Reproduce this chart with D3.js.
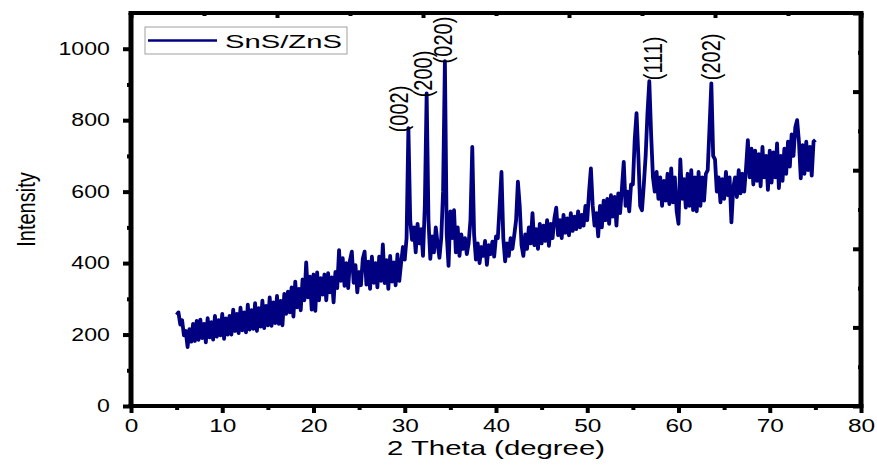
<!DOCTYPE html>
<html>
<head>
<meta charset="utf-8">
<script src="https://cdn.jsdelivr.net/npm/d3@7"></script>
<style>
  body { margin: 0; background: #fff; }
  text { font-family: "Liberation Sans", Arial, sans-serif; fill: #000; }
</style>
</head>
<body>
<svg id="chart"></svg>
<script>
// XRD pattern of SnS/ZnS, sampled every 0.2 degree from 5 to 75 (2 theta)
const twoThetaStart = 5;
const twoThetaStep = 0.2;
const intensity = [
  255, 262, 228, 240, 198, 210, 165, 215, 180, 230,   // 5.0 - 6.8
  182, 238, 185, 242, 190, 230, 178, 246, 192, 235,   // 7.0
  186, 252, 194, 240, 198, 258, 188, 245, 200, 252,   // 9.0
  200, 270, 210, 258, 204, 275, 212, 262, 206, 284,   // 11.0
  214, 268, 216, 288, 210, 274, 222, 295, 218, 280,   // 13.0
  226, 304, 224, 290, 232, 308, 230, 294, 226, 314,   // 15.0
  258, 320, 262, 332, 250, 348, 276, 328, 268, 354,   // 17.0
  296, 402, 304, 362, 270, 368, 266, 374, 296, 358,   // 19.0
  312, 368, 296, 372, 318, 360, 290, 375, 330, 436,   // 21.0
  350, 414, 336, 400, 330, 408, 432, 345, 394, 318,   // 23.0
  375, 338, 412, 432, 340, 404, 328, 418, 345, 400,   // 25.0
  332, 418, 350, 452, 344, 408, 328, 420, 348, 402,   // 27.0
  338, 424, 350, 400, 445, 410, 470, 778, 520, 465,   // 29.0
  500, 430, 510, 455, 495, 420, 560, 875, 520, 412,   // 31.0
  475, 430, 500, 455, 415, 470, 600, 965, 480, 392,   // 33.0
  545, 470, 548, 430, 500, 420, 480, 440, 470, 425,   // 35.0
  455, 520, 725, 480, 410, 455, 400, 445, 420, 462,   // 37.0
  395, 450, 425, 460, 418, 475, 470, 560, 655, 470,   // 39.0
  405, 455, 420, 470, 440, 478, 520, 628, 560, 450,   // 41.0
  420, 480, 440, 500, 455, 540, 450, 495, 440, 510,   // 43.0
  455, 505, 462, 520, 448, 510, 470, 525, 555, 478,   // 45.0
  520, 470, 535, 485, 525, 478, 540, 490, 530, 495,   // 47.0
  545, 500, 535, 505, 560, 520, 600, 665, 560, 505,   // 49.0
  540, 475, 560, 500, 575, 520, 580, 510, 590, 530,   // 51.0
  585, 505, 595, 540, 610, 683, 560, 600, 545, 620,   // 53.0
  620, 745, 820, 700, 560, 548, 620, 700, 820, 909,   // 55.0
  760, 640, 600, 655, 580, 640, 560, 630, 575, 650,   // 57.0
  565, 665, 570, 640, 545, 510, 690, 580, 635, 555,   // 59.0
  650, 560, 660, 548, 640, 545, 655, 560, 640, 575,   // 61.0
  650, 660, 780, 903, 700, 690, 600, 640, 570, 635,   // 63.0
  580, 655, 590, 640, 514, 610, 640, 585, 660, 595,   // 65.0
  650, 600, 665, 744, 640, 720, 620, 715, 630, 705,   // 67.0
  615, 725, 640, 700, 605, 715, 625, 710, 640, 735,   // 69.0
  610, 700, 630, 720, 650, 740, 670, 760, 700, 780,   // 71.0
  800, 740, 637, 730, 650, 740, 660, 725, 645, 740,   // 73.0
  745                                                 // 75.0
];

// peak labels: text, 2theta and intensity where the rotated label starts
const peakNames = ["(002)", "(200)", "(020)", "(111)", "(202)"];
const peakLabelX = [30.36, 32.99, 35.18, 58.19, 64.55];
const peakLabelY = [766, 864, 959, 912, 912];

const seriesName = "SnS/ZnS";
const xTicks = [0, 10, 20, 30, 40, 50, 60, 70, 80];
const yTicks = [0, 200, 400, 600, 800, 1000];

const width = 877, height = 471;
const plot = { left: 131, right: 861, top: 13, bottom: 406 };
const lineColor = "#000080";
const sx = 1.32; // the original picture is stretched sideways

const data = intensity.map((v, i) => [twoThetaStart + i * twoThetaStep, v]);

const svg = d3.select("#chart")
  .attr("width", width)
  .attr("height", height);

const x = d3.scaleLinear().domain([0, 80]).range([plot.left, plot.right]);
const y = d3.scaleLinear().domain([0, 1100]).range([plot.bottom, plot.top]);

// top and right axes use their own tick spacing (mirror layer)
const xTop = d3.scaleLinear().domain([0, 100]).range([plot.left, plot.right]);
const yRight = d3.scaleLinear().domain([0, 10]).range([plot.bottom, plot.top]);

// data line
svg.append("path")
  .datum(data)
  .attr("fill", "none")
  .attr("stroke", lineColor)
  .attr("stroke-width", 3.8)
  .attr("stroke-linejoin", "round")
  .attr("d", d3.line().x(d => x(d[0])).y(d => y(d[1])));

// bottom axis
const xAxisG = svg.append("g")
  .attr("transform", `translate(0,${plot.bottom})`)
  .call(d3.axisBottom(x).tickValues(xTicks).tickSize(7).tickPadding(6));
svg.append("g")
  .attr("transform", `translate(0,${plot.bottom})`)
  .call(d3.axisBottom(x).tickValues(d3.range(5, 80, 10)).tickSize(4).tickFormat(""));

// left axis
const yAxisG = svg.append("g")
  .attr("transform", `translate(${plot.left},0)`)
  .call(d3.axisLeft(y).tickValues(yTicks).tickSize(8).tickPadding(8).tickFormat(d3.format("d")));
svg.append("g")
  .attr("transform", `translate(${plot.left},0)`)
  .call(d3.axisLeft(y).tickValues(d3.range(100, 1100, 200)).tickSize(4).tickFormat(""));

// top axis, ticks pointing in
svg.append("g")
  .attr("transform", `translate(0,${plot.top})`)
  .call(d3.axisBottom(xTop).tickValues(d3.range(0, 101, 20)).tickSize(5).tickFormat(""));
svg.append("g")
  .attr("transform", `translate(0,${plot.top})`)
  .call(d3.axisBottom(xTop).tickValues(d3.range(10, 100, 20)).tickSize(3).tickFormat(""));

// right axis, ticks pointing in
svg.append("g")
  .attr("transform", `translate(${plot.right},0)`)
  .call(d3.axisLeft(yRight).tickValues(d3.range(0, 11, 2)).tickSize(8).tickFormat(""));
svg.append("g")
  .attr("transform", `translate(${plot.right},0)`)
  .call(d3.axisLeft(yRight).tickValues(d3.range(1, 10, 2)).tickSize(3).tickFormat(""));

svg.selectAll(".domain").remove();
svg.selectAll(".tick line").attr("stroke", "#000").attr("stroke-width", 4);

xAxisG.selectAll("text")
  .attr("font-size", 18.5)
  .attr("transform", `scale(${sx},1)`);
yAxisG.selectAll("text")
  .attr("font-size", 17.5)
  .attr("transform", `scale(${sx},1)`);

// frame
svg.append("line").attr("x1", plot.left - 2.5).attr("x2", plot.right + 2.5)
  .attr("y1", plot.bottom).attr("y2", plot.bottom)
  .attr("stroke", "#000").attr("stroke-width", 4);
svg.append("line").attr("x1", plot.left - 2.5).attr("x2", plot.right + 2.5)
  .attr("y1", plot.top).attr("y2", plot.top)
  .attr("stroke", "#000").attr("stroke-width", 4);
svg.append("line").attr("x1", plot.left).attr("x2", plot.left)
  .attr("y1", plot.top).attr("y2", plot.bottom)
  .attr("stroke", "#000").attr("stroke-width", 5);
svg.append("line").attr("x1", plot.right).attr("x2", plot.right)
  .attr("y1", plot.top).attr("y2", plot.bottom)
  .attr("stroke", "#000").attr("stroke-width", 5);

// axis titles
svg.append("text")
  .attr("x", (plot.left + plot.right) / 2)
  .attr("y", 455)
  .attr("text-anchor", "middle")
  .attr("font-size", 21)
  .attr("textLength", 218)
  .attr("lengthAdjust", "spacingAndGlyphs")
  .text("2 Theta (degree)");

svg.append("text")
  .attr("transform", `translate(35,${(plot.top + plot.bottom) / 2}) rotate(-90) scale(1,1.3)`)
  .attr("text-anchor", "middle")
  .attr("font-size", 20)
  .text("Intensity");

// peak labels
peakNames.forEach((name, i) => {
  svg.append("text")
    .attr("transform", `translate(${x(peakLabelX[i])},${y(peakLabelY[i])}) rotate(-90) scale(1,1.25)`)
    .attr("text-anchor", "start")
    .attr("font-size", 20)
    .text(name);
});

// legend
svg.append("rect")
  .attr("x", 145).attr("y", 27)
  .attr("width", 202).attr("height", 27)
  .attr("fill", "#fff")
  .attr("stroke", "#a0a0a0")
  .attr("stroke-width", 1);
svg.append("line")
  .attr("x1", 148).attr("x2", 217)
  .attr("y1", 40.5).attr("y2", 40.5)
  .attr("stroke", lineColor)
  .attr("stroke-width", 2.5);
svg.append("text")
  .attr("x", 225).attr("y", 47.5)
  .attr("font-size", 19)
  .attr("textLength", 117)
  .attr("lengthAdjust", "spacingAndGlyphs")
  .text(seriesName);
</script>
</body>
</html>
